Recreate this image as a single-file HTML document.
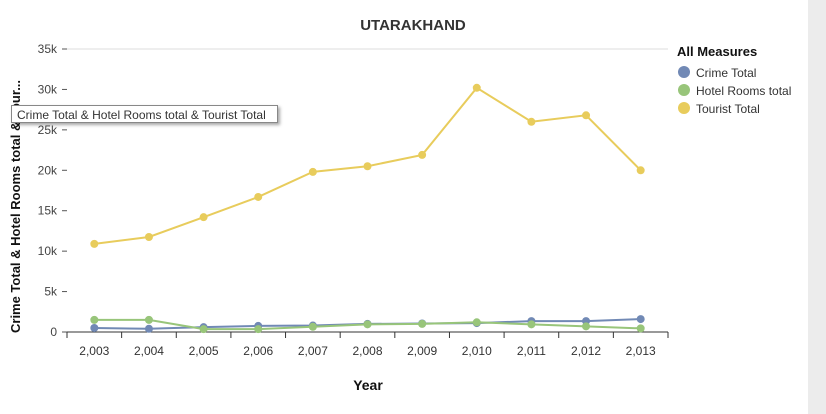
<!DOCTYPE html>
<html><head><meta charset="utf-8"><style>
body{margin:0;width:826px;height:414px;background:#fff;overflow:hidden;font-family:"Liberation Sans",Arial,sans-serif;position:relative}
#scroll{position:absolute;left:808px;top:0;width:18px;height:414px;background:#ececec}
#tip{position:absolute;left:11px;top:105px;width:267px;height:18px;border:1px solid #888;background:#fff;box-shadow:2px 2px 3px rgba(0,0,0,.35);font-size:12px;color:#333;line-height:18px;padding-left:5px;box-sizing:border-box;white-space:nowrap}
</style></head><body>
<svg id="chart" width="826" height="414" style="position:absolute;left:0;top:0"></svg>
<div id="scroll"></div>
<div id="tip">Crime Total &amp; Hotel Rooms total &amp; Tourist Total</div>
<script>
const years=[2003,2004,2005,2006,2007,2008,2009,2010,2011,2012,2013];
const crime=[500,400,600,750,800,1000,1050,1100,1350,1350,1600];
const hotel=[1500,1500,350,350,650,950,1000,1200,950,700,450];
const tourist=[10900,11750,14200,16700,19800,20500,21900,30200,26000,26800,20000];
const yTicks=[0,5000,10000,15000,20000,25000,30000,35000];
const yTickLabels=["0","5k","10k","15k","20k","25k","30k","35k"];
const seriesNames=["Crime Total","Hotel Rooms total","Tourist Total"];
const colors=["#7189b5","#98c57a","#e8cc5c"];
const NS="http://www.w3.org/2000/svg";
const svg=document.getElementById('chart');
const x0=67,x1=668,y0=332,yTop=49,yMax=35000;
const bw=(x1-x0)/years.length;
const xs=i=>x0+bw*(i+0.5);
const ys=v=>y0-(v/yMax)*(y0-yTop);
function mk(t,a,txt){const e=document.createElementNS(NS,t);for(const k in a)e.setAttribute(k,a[k]);if(txt!==undefined)e.textContent=txt;svg.appendChild(e);return e;}
let e;
e=mk('text',{x:413,y:30,'text-anchor':'middle','font-size':15,'font-weight':'bold',fill:'#333'},'UTARAKHAND');


e=mk('line',{x1:67,x2:668,y1:yTop,y2:yTop,stroke:'#ddd'});


yTicks.forEach((v,i)=>{
 e=mk('line',{x1:62,x2:67,y1:ys(v),y2:ys(v),stroke:'#555'});
 
 
 e=mk('text',{x:57,y:ys(v)+4,'text-anchor':'end','font-size':12,fill:'#444'},yTickLabels[i]);
 
 
});
e=mk('line',{x1:x0,x2:x1,y1:y0,y2:y0,stroke:'#333'});


for(let i=0;i<=years.length;i++){
 e=mk('line',{x1:x0+bw*i,x2:x0+bw*i,y1:y0,y2:y0+6,stroke:'#333'});
 
 
}
years.forEach((y,i)=>{
 e=mk('text',{x:xs(i),y:355,'text-anchor':'middle','font-size':12,fill:'#333'},y.toLocaleString('en-US'));
 
 
});
e=mk('text',{x:368,y:390,'text-anchor':'middle','font-size':14,'font-weight':'bold',fill:'#111'},'Year');


e=mk('text',{x:0,y:0,transform:'translate(20,333) rotate(-90)','font-size':13,'font-weight':'bold',fill:'#111'},'Crime Total & Hotel Rooms total & Tour...');


[crime,hotel,tourist].forEach((s,k)=>{
 e=mk('polyline',{points:s.map((v,i)=>xs(i)+','+ys(v)).join(' '),fill:'none',stroke:colors[k],'stroke-width':2});
 
 
 s.forEach((v,i)=>{
  e=mk('circle',{cx:xs(i),cy:ys(v),r:4,fill:colors[k]});
  
  
 });
});
e=mk('text',{x:677,y:56,'font-size':13,'font-weight':'bold',fill:'#111'},'All Measures');


seriesNames.forEach((n,k)=>{
 e=mk('circle',{cx:684,cy:72+k*18,r:6,fill:colors[k]});
 
 
 e=mk('text',{x:696,y:77+k*18,'font-size':12,fill:'#333'},n);
 
 
});
</script>
</body></html>
